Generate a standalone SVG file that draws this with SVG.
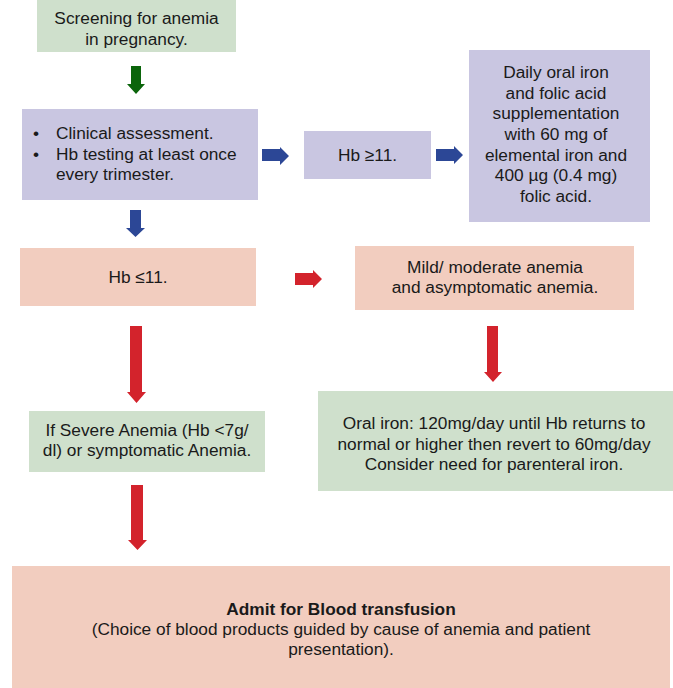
<svg xmlns="http://www.w3.org/2000/svg" width="673" height="688" viewBox="0 0 673 688">
  <style>
    .green { fill: #cfe0cc; }
    .purple { fill: #c9c6e1; }
    .pink { fill: #f2cdbf; }
    text { font-family: "Liberation Sans", Arial, sans-serif; font-size: 17.3px; fill: #1a1a1a; }
    .c { text-anchor: middle; }
    .b { font-weight: bold; }
    .ag { fill: #0b650b; }
    .ab { fill: #2c4796; }
    .ar { fill: #d3232c; }
  </style>
  <rect width="673" height="688" fill="#ffffff"/>

  <g id="screening">
    <rect class="green" x="37" y="0" width="199" height="52"/>
    <text class="c" x="136.5" y="24">Screening for anemia</text>
    <text class="c" x="136.5" y="45">in pregnancy.</text>
  </g>

  <g id="assessment">
    <rect class="purple" x="22" y="109" width="236" height="91"/>
    <text x="33" y="139">•</text>
    <text x="56" y="139">Clinical assessment.</text>
    <text x="33" y="160">•</text>
    <text x="56" y="160">Hb testing at least once</text>
    <text x="56" y="180">every trimester.</text>
  </g>

  <g id="hb-normal">
    <rect class="purple" x="304" y="131" width="127" height="48"/>
    <text class="c" x="367.5" y="161">Hb ≥11.</text>
  </g>

  <g id="supplementation">
    <rect class="purple" x="469" y="50" width="181" height="172"/>
    <text class="c" x="556" y="78">Daily oral iron</text>
    <text class="c" x="556" y="99">and folic acid</text>
    <text class="c" x="556" y="119">supplementation</text>
    <text class="c" x="556" y="140">with 60 mg of</text>
    <text class="c" x="556" y="161">elemental iron and</text>
    <text class="c" x="556" y="181">400 µg (0.4 mg)</text>
    <text class="c" x="556" y="202">folic acid.</text>
  </g>

  <g id="hb-low">
    <rect class="pink" x="20" y="248" width="236" height="58"/>
    <text class="c" x="138" y="283">Hb ≤11.</text>
  </g>

  <g id="mild">
    <rect class="pink" x="355" y="246" width="279" height="64"/>
    <text class="c" x="495" y="273">Mild/ moderate anemia</text>
    <text class="c" x="495" y="293">and asymptomatic anemia.</text>
  </g>

  <g id="severe">
    <rect class="green" x="29" y="411" width="236" height="61"/>
    <text class="c" x="147" y="436">If Severe Anemia (Hb &lt;7g/</text>
    <text class="c" x="147" y="456">dl) or symptomatic Anemia.</text>
  </g>

  <g id="oral-iron">
    <rect class="green" x="318" y="391" width="355" height="100"/>
    <text class="c" x="494" y="429">Oral iron: 120mg/day until Hb returns to</text>
    <text class="c" x="494" y="450">normal or higher then revert to 60mg/day</text>
    <text class="c" x="494" y="470">Consider need for parenteral iron.</text>
  </g>

  <g id="transfusion">
    <rect class="pink" x="12" y="566" width="658" height="122"/>
    <text class="c b" x="341" y="615">Admit for Blood transfusion</text>
    <text class="c" x="341" y="635">(Choice of blood products guided by cause of anemia and patient</text>
    <text class="c" x="341" y="655">presentation).</text>
  </g>

  <g id="connectors">
    <!-- screening to assessment -->
    <polygon class="ag" points="131,66 141,66 141,84 145,84 136,94 127,84 131,84"/>
    <!-- assessment to Hb >= 11 -->
    <polygon class="ab" points="262,149 280,149 280,147 289,156 280,165 280,161 262,161"/>
    <!-- Hb >= 11 to supplementation -->
    <polygon class="ab" points="436,149 454,149 454,146 463,155 454,164 454,161 436,161"/>
    <!-- assessment to Hb <= 11 -->
    <polygon class="ab" points="130,210 141,210 141,228 145,228 135.5,237 126,228 130,228"/>
    <!-- Hb <= 11 to mild -->
    <polygon class="ar" points="295,273 313,273 313,270 322,279 313,288 313,285 295,285"/>
    <!-- Hb <= 11 to severe -->
    <polygon class="ar" points="130,326 142,326 142,392 146,392 136.5,403 127,392 130,392"/>
    <!-- mild to oral iron -->
    <polygon class="ar" points="487,326 498,326 498,372 502,372 493,382 484,372 487,372"/>
    <!-- severe to transfusion -->
    <polygon class="ar" points="131,485 143,485 143,540 147,540 137.5,550 128,540 131,540"/>
  </g>
</svg>
